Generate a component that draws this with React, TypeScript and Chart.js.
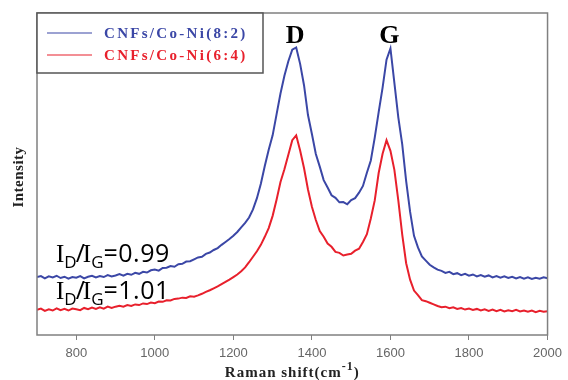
import React, { useEffect, useRef } from "react";
import { Chart, registerables } from "chart.js";

Chart.register(...registerables);

// Raman spectra, sampled every 10 cm-1 from 700 to 2000 (arbitrary intensity units)
const blueIntensity = [
  18.0, 18.3, 17.6, 18.2, 17.9, 18.4, 17.7, 18.1, 17.5, 18.0,
  17.8, 18.3, 17.6, 18.1, 18.4, 17.9, 18.3, 18.0, 18.6, 18.2,
  18.5, 18.9, 18.4, 19.0, 18.7, 19.3, 19.0, 19.6, 19.4, 20.1,
  20.3, 20.0, 20.8, 20.9, 21.4, 21.2, 22.0, 22.1, 22.8, 22.9,
  23.5, 24.1, 24.3, 25.2, 25.6, 26.4, 27.0, 28.0, 28.9, 29.8,
  30.8, 32.0, 33.4, 34.8, 36.5, 39.0, 42.5, 47.0, 52.5, 57.5,
  62.0, 68.5, 75.0, 80.5, 85.0, 88.6, 89.3, 84.2, 77.5, 68.3,
  62.4, 56.2, 52.3, 48.1, 45.8, 43.4, 42.6, 41.2, 41.3, 40.6,
  41.9, 42.5, 44.2, 46.3, 50.4, 54.2, 61.3, 69.2, 76.8, 85.5,
  89.0, 78.3, 67.6, 59.2, 47.8, 38.3, 30.8, 27.2, 24.4, 23.1,
  21.8, 21.0, 20.3, 19.9, 19.3, 19.6, 18.9, 19.2, 18.6, 19.0,
  18.4, 18.8, 18.2, 18.6, 18.1, 18.5, 17.9, 18.3, 17.8, 18.2,
  17.7, 18.1, 17.6, 18.0, 17.5, 17.9, 17.4, 17.8, 17.5, 17.9,
  17.6,
];

const redIntensity = [
  7.8, 8.2, 7.5, 8.0, 7.6, 8.3, 7.7, 8.1, 7.6, 8.2,
  8.0, 7.7, 8.4, 8.0, 8.5, 8.1, 8.6, 8.2, 8.8, 8.4,
  8.8, 9.1, 8.8, 9.3, 9.0, 9.5, 9.3, 9.8, 9.6, 10.1,
  9.9, 10.4, 10.3, 10.8, 10.7, 11.2, 11.3, 11.6, 11.5, 12.0,
  11.9, 12.3, 12.8, 13.4, 13.9, 14.5, 15.1, 15.8, 16.5, 17.2,
  18.0, 18.8, 19.8, 21.0, 22.6, 24.3, 26.0, 28.0, 30.5, 33.2,
  37.0, 42.0, 47.5, 51.5, 56.0, 60.5, 62.0, 57.3, 51.8, 45.2,
  39.8, 35.7, 32.3, 30.5, 28.4, 27.4, 25.8, 25.5, 24.7, 25.0,
  25.2, 26.2, 26.8, 28.9, 31.3, 36.2, 41.8, 50.3, 56.3, 60.5,
  57.2, 51.3, 41.8, 31.2, 22.3, 17.2, 13.8, 12.4, 10.8, 10.5,
  10.0, 9.5, 9.0, 8.6, 8.8, 8.3, 8.6, 8.1, 8.4, 7.9,
  8.2, 7.8, 8.1, 7.6, 8.0, 7.5, 7.9, 7.4, 7.8, 7.3,
  7.7, 7.4, 7.8, 7.3, 7.6, 7.2, 7.6, 7.1, 7.5, 7.2,
  7.4,
];

const ramanShift = blueIntensity.map((_, i) => 700 + i * 10);
const xTicks = [800, 1000, 1200, 1400, 1600, 1800, 2000];
const seriesLabels = ["CNFs/Co-Ni(8:2)", "CNFs/Co-Ni(6:4)"];
const seriesColors = ["#3b47a6", "#e8202c"];
const peakLabels = [
  { text: "D", x: 1357 },
  { text: "G", x: 1597 },
];
const ratioLabels = ["0.99", "1.01"];

const overlayPlugin = {
  id: "overlay",
  afterDraw(chart: any) {
    const { ctx, chartArea } = chart;
    const { left, top, right, bottom } = chartArea;
    const xs = chart.scales.x;
    ctx.save();
    // plot frame
    ctx.strokeStyle = "#808080";
    ctx.lineWidth = 1.5;
    ctx.strokeRect(left, top, right - left, bottom - top);

    // legend box
    ctx.strokeStyle = "#555555";
    ctx.lineWidth = 1.5;
    ctx.fillStyle = "#ffffff";
    ctx.fillRect(left, top, 226, 60);
    ctx.strokeRect(left, top, 226, 60);
    seriesLabels.forEach((lab, i) => {
      const y = top + 20 + i * 22;
      ctx.strokeStyle = seriesColors[i];
      ctx.lineWidth = 1.2;
      ctx.beginPath();
      ctx.moveTo(left + 10, y);
      ctx.lineTo(left + 55, y);
      ctx.stroke();
      ctx.fillStyle = seriesColors[i];
      ctx.font = "bold 15px 'Liberation Serif'";
      (ctx as any).letterSpacing = "2.3px";
      ctx.textBaseline = "middle";
      ctx.textAlign = "left";
      ctx.fillText(lab, left + 67, y + 1);
    });
    (ctx as any).letterSpacing = "0px";

    // D and G labels
    ctx.fillStyle = "#000000";
    ctx.font = "bold 26px 'Liberation Serif'";
    ctx.textAlign = "center";
    ctx.textBaseline = "alphabetic";
    peakLabels.forEach((p) => {
      ctx.fillText(p.text, xs.getPixelForValue(p.x), 43);
    });

    // ID/IG labels
    const baselines = [262, 299];
    ratioLabels.forEach((r, i) => {
      let x = 56;
      const yb = baselines[i];
      ctx.textAlign = "left";
      const serifI = "25px 'Liberation Serif'";
      const big = "25px 'Open Sans'";
      const small = "17px 'Open Sans'";
      const parts: [string, string, number, number][] = [
        ["I", serifI, 0, 0],
        ["D", small, 6, -1],
        ["/", big, 0, -2],
        ["I", serifI, 0, 0],
        ["G", small, 6, 0],
        ["=" + r, big, 0, 0],
      ];
      parts.forEach(([t, f, dy, adv]) => {
        ctx.font = f;
        (ctx as any).letterSpacing = t.startsWith("=") ? "0.5px" : "0px";
        ctx.fillText(t, x, yb + dy);
        x += ctx.measureText(t).width + adv;
      });
    });
    (ctx as any).letterSpacing = "0px";

    // axis titles
    ctx.fillStyle = "#222222";
    ctx.font = "bold 15px 'Liberation Serif'";
    (ctx as any).letterSpacing = "1px";
    const title = "Raman shift(cm";
    const cx = (left + right) / 2;
    const w1 = ctx.measureText(title).width;
    ctx.font = "bold 12px 'Liberation Serif'";
    const w2 = ctx.measureText("-1").width;
    ctx.font = "bold 15px 'Liberation Serif'";
    const w3 = ctx.measureText(")").width;
    let sx = cx - (w1 + w2 + w3) / 2;
    ctx.textAlign = "left";
    ctx.fillText(title, sx, 377);
    sx += w1;
    ctx.font = "bold 12px 'Liberation Serif'";
    ctx.fillText("-1", sx, 370);
    sx += w2;
    ctx.font = "bold 15px 'Liberation Serif'";
    ctx.fillText(")", sx, 377);

    (ctx as any).letterSpacing = "0.5px";
    ctx.translate(19, (top + bottom) / 2 + 3);
    ctx.rotate(-Math.PI / 2);
    ctx.textAlign = "center";
    ctx.textBaseline = "middle";
    ctx.font = "bold 15px 'Liberation Serif'";
    ctx.fillText("Intensity", 0, 0);
    ctx.restore();
  },
};

export default function App() {
  const canvasRef = useRef<HTMLCanvasElement>(null);
  useEffect(() => {
    document.body.style.margin = "0";
    const chart = new Chart(canvasRef.current!, {
      type: "line",
      data: {
        datasets: [
          {
            label: seriesLabels[0],
            data: ramanShift.map((x, i) => ({ x, y: blueIntensity[i] })),
            borderColor: seriesColors[0],
            borderWidth: 2,
            pointRadius: 0,
            tension: 0,
          },
          {
            label: seriesLabels[1],
            data: ramanShift.map((x, i) => ({ x, y: redIntensity[i] })),
            borderColor: seriesColors[1],
            borderWidth: 2,
            pointRadius: 0,
            tension: 0,
          },
        ],
      },
      options: {
        responsive: false,
        animation: false,
        layout: { padding: { left: 37, right: 17, top: 13, bottom: 0 } },
        plugins: { legend: { display: false }, tooltip: { enabled: false } },
        scales: {
          x: {
            type: "linear",
            min: 700,
            max: 2000,
            afterBuildTicks: (scale: any) => {
              scale.ticks = xTicks.map((v) => ({ value: v }));
            },
            afterFit: (scale: any) => {
              scale.height = 45;
            },
            grid: {
              display: true,
              drawOnChartArea: false,
              drawTicks: true,
              tickLength: 5,
              color: "#808080",
            },
            border: { display: false },
            ticks: {
              color: "#666666",
              font: { family: "'Liberation Sans'", size: 13 },
              padding: 6,
              maxRotation: 0,
              callback: (v: any) => String(v),
            },
          },
          y: {
            min: 0,
            max: 100,
            display: false,
          },
        },
      },
      plugins: [overlayPlugin],
    });
    return () => chart.destroy();
  }, []);
  return <canvas ref={canvasRef} width={568} height={380} style={{ display: "block" }} />;
}
